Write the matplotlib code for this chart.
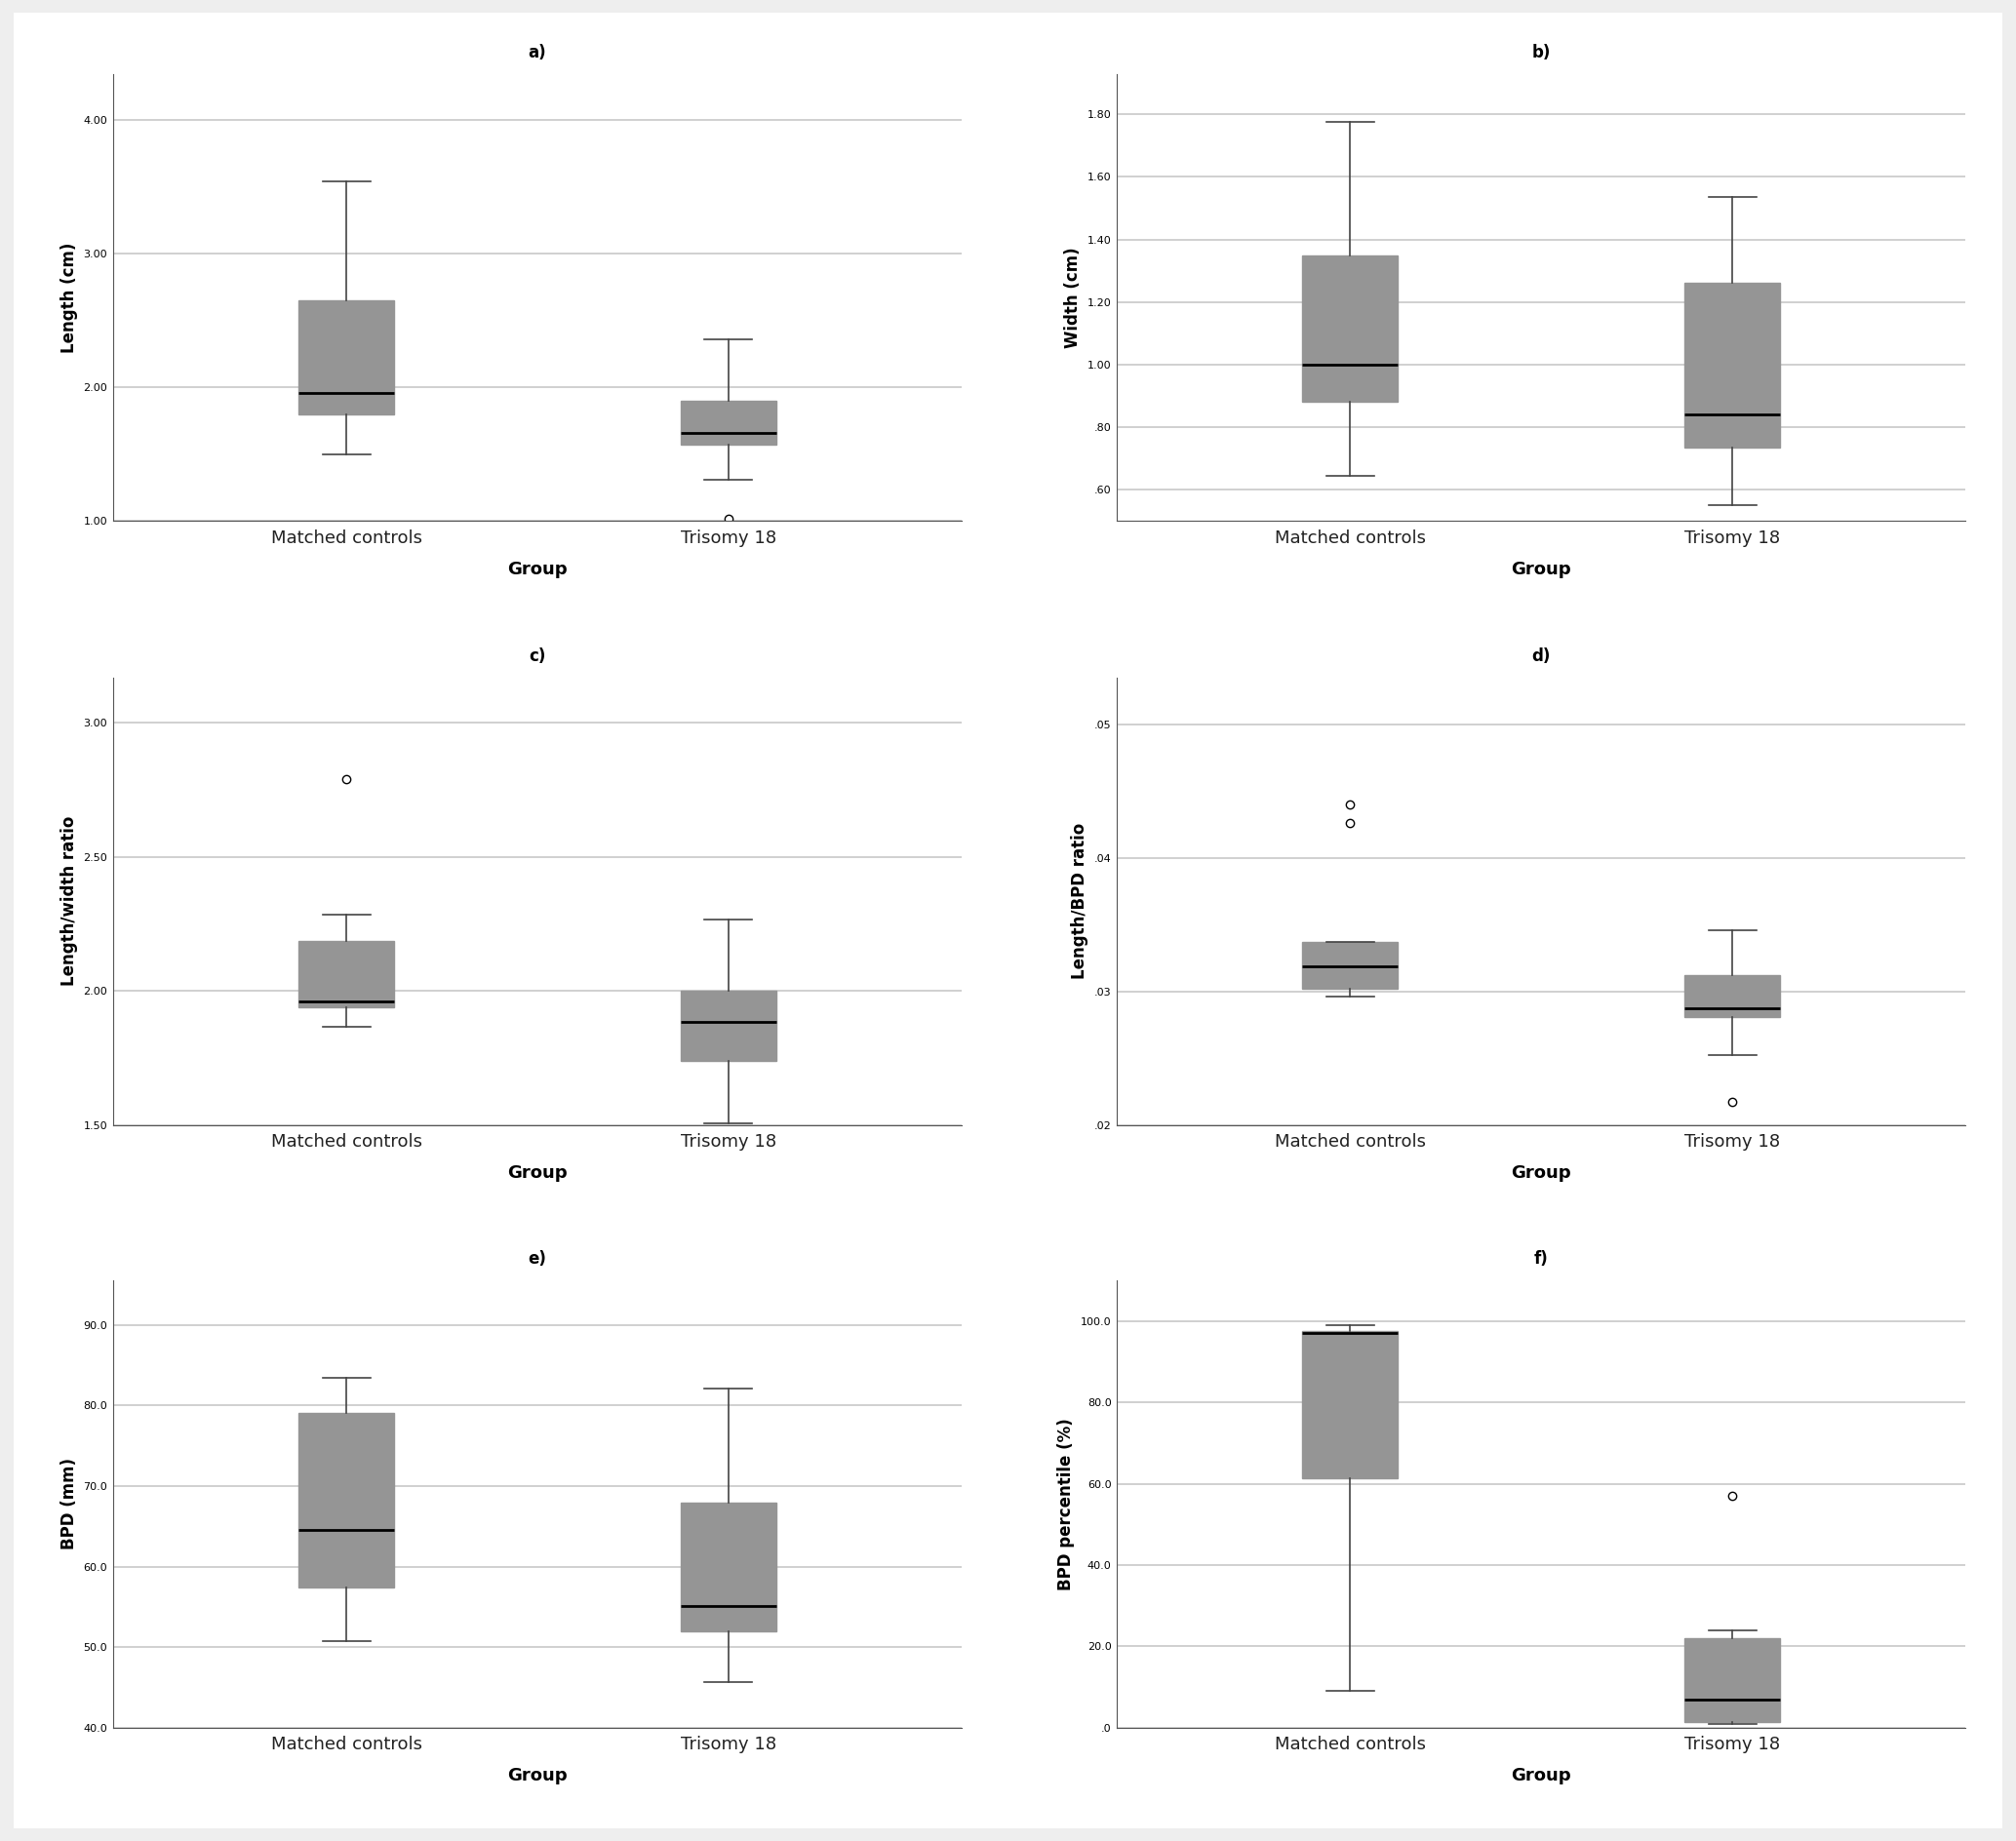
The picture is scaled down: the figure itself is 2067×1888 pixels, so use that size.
import matplotlib
matplotlib.use("Agg")
import matplotlib.pyplot as plt
from matplotlib.patches import Rectangle
from matplotlib.ticker import FuncFormatter, MultipleLocator

groups = ["Matched controls", "Trisomy 18"]
titles = ["a)", "b)", "c)", "d)", "e)", "f)"]
ylabels = ["Length (cm)", "Width (cm)", "Length/width ratio", "Length/BPD ratio",
           "BPD (mm)", "BPD percentile (%)"]

# (whislo, q1, med, q3, whishi, fliers) per group
stats_a = [(1.50, 1.80, 1.96, 2.65, 3.54, []), (1.31, 1.57, 1.66, 1.90, 2.36, [1.02])]
stats_b = [(0.645, 0.88, 1.00, 1.35, 1.775, []), (0.55, 0.735, 0.84, 1.26, 1.535, [])]
stats_c = [(1.865, 1.94, 1.96, 2.185, 2.285, [2.79]), (1.505, 1.74, 1.885, 2.0, 2.265, [])]
stats_d = [(0.0296, 0.0302, 0.0319, 0.0337, 0.0337, [0.0440, 0.0426]),
           (0.0252, 0.0281, 0.0287, 0.0312, 0.0346, [0.0217])]
stats_e = [(50.8, 57.4, 64.5, 79.1, 83.4, []), (45.7, 52.0, 55.1, 67.9, 82.1, [])]
stats_f = [(9.0, 61.3, 97.0, 97.5, 99.0, []), (1.0, 1.3, 7.0, 22.0, 24.0, [57.0])]
all_stats = [stats_a, stats_b, stats_c, stats_d, stats_e, stats_f]

# y limits, tick step, decimals
ylims = [(1.0, 4.35), (0.50, 1.93), (1.5, 3.17), (0.02, 0.0535), (40, 95.5), (0, 110)]
steps = [1.0, 0.2, 0.5, 0.01, 10, 20]
decs = [2, 2, 2, 2, 1, 1]


def fmt(dec):
    def f(v, pos):
        s = f"{v:.{dec}f}"
        if s.startswith("0."):
            s = s[1:]
        return s
    return f


fig = plt.figure(figsize=(20.67, 18.88), dpi=100, facecolor="#eeeeee")
fig.add_artist(Rectangle((0.007, 0.007), 0.986, 0.986, transform=fig.transFigure,
                         facecolor="white", edgecolor="none", zorder=-5))

lefts = [0.056, 0.554]
bottoms = [0.717, 0.389, 0.0615]
w, h = 0.421, 0.243

for i, st in enumerate(all_stats):
    ax = fig.add_axes([lefts[i % 2], bottoms[i // 2], w, h])
    ax.set_facecolor("none")
    bx = [dict(whislo=s[0], q1=s[1], med=s[2], q3=s[3], whishi=s[4], fliers=s[5])
          for s in st]
    ax.bxp(bx, positions=[1, 2], widths=0.25, patch_artist=True, showcaps=True,
           boxprops=dict(facecolor="#959595", edgecolor="#959595"),
           medianprops=dict(color="black", linewidth=2),
           whiskerprops=dict(color="#444444", linewidth=1.2),
           capprops=dict(color="#444444", linewidth=1.2),
           flierprops=dict(marker="o", markerfacecolor="white",
                           markeredgecolor="black", markersize=6))
    ax.set_xlim(0.389, 2.611)
    ax.set_ylim(*ylims[i])
    ax.yaxis.set_major_locator(MultipleLocator(steps[i]))
    ax.yaxis.set_major_formatter(FuncFormatter(fmt(decs[i])))
    ax.grid(axis="y", color="#c8c8c8", linewidth=1.2)
    ax.set_axisbelow(True)
    for sp in ["top", "right"]:
        ax.spines[sp].set_visible(False)
    for sp in ["left", "bottom"]:
        ax.spines[sp].set_color("#555555")
    ax.set_xticks([1, 2])
    ax.set_xticklabels(groups, fontsize=13, color="#222222")
    ax.tick_params(axis="y", labelsize=8, length=0, pad=4)
    ax.tick_params(axis="x", length=0, pad=6)
    ax.set_xlabel("Group", fontsize=13, fontweight="bold", labelpad=10)
    ax.set_ylabel(ylabels[i], fontsize=12, fontweight="bold")
    ax.set_title(titles[i], fontsize=12, fontweight="bold", pad=12)

fig.savefig("out.png", dpi=100, facecolor=fig.get_facecolor())
